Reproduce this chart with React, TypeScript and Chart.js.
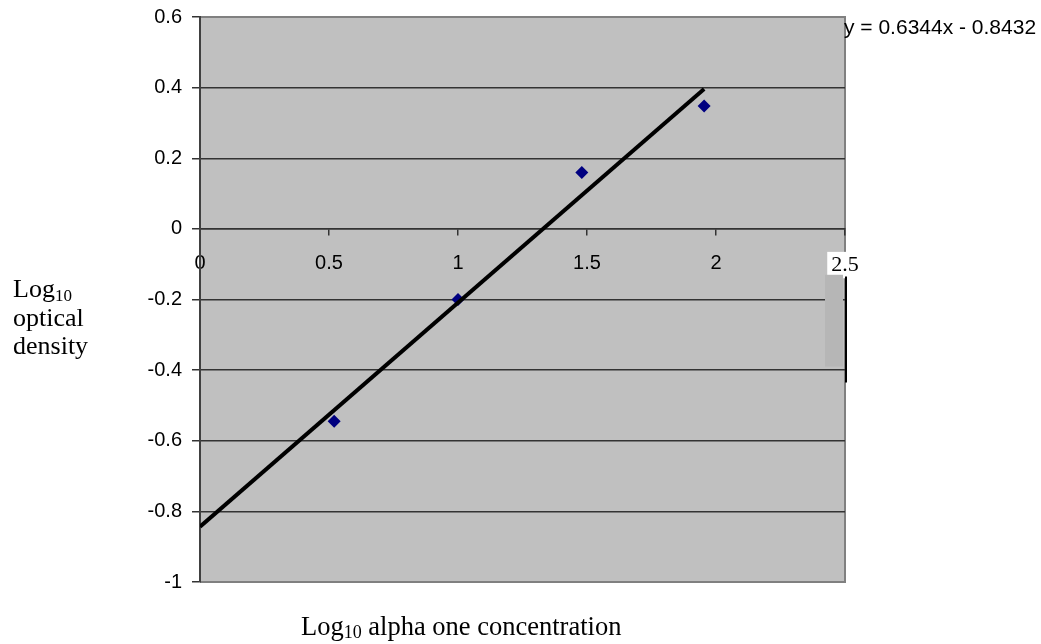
import React, { useEffect, useRef } from 'react';
import { Chart, registerables } from 'chart.js';

Chart.register(...registerables);

// ---- data ----
const POINTS_X = [0.52, 1.0, 1.48, 1.954];
const POINTS_Y = [-0.545, -0.2, 0.16, 0.348];
const TREND_SLOPE = 0.6344;
const TREND_INTERCEPT = -0.8432;
const TREND_X_RANGE = [0, 1.954];
const X_MIN = 0;
const X_MAX = 2.5;
const X_STEP = 0.5;
const Y_MIN = -1;
const Y_MAX = 0.6;
const Y_STEP = 0.2;
const EQUATION = 'y = 0.6344x - 0.8432';
const Y_TITLE_LINES = [['Log', '10'], ['optical'], ['density']];
const X_TITLE = ['Log', '10', ' alpha one concentration'];

const SANS = 'Liberation Sans';
const SERIF = 'Liberation Serif';

const near = (a: number, b: number) => Math.abs(a - b) < 1e-6;

const decor = {
  id: 'decor',
  beforeDraw(chart: any) {
    const { ctx, chartArea: a } = chart;
    ctx.save();
    ctx.fillStyle = '#ffffff';
    ctx.fillRect(0, 0, chart.width, chart.height);
    ctx.fillStyle = '#c0c0c0';
    ctx.fillRect(a.left, a.top, a.right - a.left, a.bottom - a.top);
    ctx.strokeStyle = '#808080';
    ctx.lineWidth = 2;
    ctx.beginPath();
    ctx.moveTo(a.left, a.top);
    ctx.lineTo(a.right, a.top);
    ctx.lineTo(a.right, a.bottom);
    ctx.lineTo(a.left, a.bottom);
    ctx.stroke();
    ctx.restore();
  },
  beforeDatasetsDraw(chart: any) {
    const { ctx } = chart;
    const xs = chart.scales.x;
    const ys = chart.scales.y;
    const xr = xs.getPixelForValue(X_MAX);
    ctx.save();
    // rendering artefact next to the last x label
    ctx.fillStyle = '#b6b6b6';
    const t = ys.getPixelForValue(-0.13);
    const b = ys.getPixelForValue(-0.39);
    ctx.fillRect(xr - 20, t, 18, b - t);
    ctx.strokeStyle = '#000';
    ctx.lineWidth = 2;
    ctx.beginPath();
    ctx.moveTo(xr + 1, ys.getPixelForValue(-0.135));
    ctx.lineTo(xr + 1, ys.getPixelForValue(-0.435));
    ctx.stroke();
    ctx.restore();
  },
  afterDraw(chart: any) {
    const { ctx, chartArea: a } = chart;
    ctx.save();
    ctx.fillStyle = '#000';
    ctx.textBaseline = 'middle';
    ctx.textAlign = 'left';
    ctx.font = `21px "${SANS}"`;
    ctx.fillText(EQUATION, a.right - 1, 28);

    ctx.textBaseline = 'alphabetic';
    const baselines = [297, 326, 354];
    Y_TITLE_LINES.forEach((parts, i) => {
      let x = 13;
      ctx.font = `26px "${SERIF}"`;
      ctx.fillText(parts[0], x, baselines[i]);
      x += ctx.measureText(parts[0]).width;
      if (parts[1]) {
        ctx.font = `17px "${SERIF}"`;
        ctx.fillText(parts[1], x, baselines[i] + 4);
      }
    });

    let x = 301;
    const by = 635;
    ctx.font = `26.5px "${SERIF}"`;
    ctx.fillText(X_TITLE[0], x, by);
    x += ctx.measureText(X_TITLE[0]).width;
    ctx.font = `18px "${SERIF}"`;
    ctx.fillText(X_TITLE[1], x, by + 3);
    x += ctx.measureText(X_TITLE[1]).width;
    ctx.font = `26.5px "${SERIF}"`;
    ctx.fillText(X_TITLE[2], x, by);
    ctx.restore();
  },
};

export default function App() {
  const ref = useRef<HTMLCanvasElement | null>(null);

  useEffect(() => {
    if (!ref.current) return;
    const chart = new Chart(ref.current, {
      type: 'scatter',
      data: {
        datasets: [
          {
            label: 'data',
            data: POINTS_X.map((x, i) => ({ x, y: POINTS_Y[i] })),
            pointStyle: 'rectRot',
            pointRadius: 6.5,
            backgroundColor: '#000080',
            borderColor: '#000080',
            borderWidth: 0,
            order: 1,
          },
          {
            label: 'trend',
            type: 'line',
            data: TREND_X_RANGE.map((x) => ({ x, y: TREND_SLOPE * x + TREND_INTERCEPT })),
            borderColor: '#000',
            borderWidth: 4,
            pointRadius: 0,
            showLine: true,
            fill: false,
            order: 0,
          } as any,
        ],
      },
      options: {
        animation: false,
        responsive: true,
        maintainAspectRatio: false,
        layout: { padding: { left: 130, right: 196, top: 17, bottom: 62 } },
        plugins: { legend: { display: false }, tooltip: { enabled: false } },
        scales: {
          x: {
            type: 'linear',
            position: { y: 0 } as any,
            min: X_MIN,
            max: X_MAX,
            ticks: {
              stepSize: X_STEP,
              color: '#000',
              padding: 17,
              maxRotation: 0,
              font: (c: any) =>
                c.tick && near(c.tick.value, X_MAX)
                  ? { family: SERIF, size: 22 }
                  : { family: SANS, size: 20 },
              showLabelBackdrop: (c: any) => !!(c.tick && near(c.tick.value, X_MAX)),
              backdropColor: '#ffffff',
              backdropPadding: { x: 4, y: 0 },
              callback: (v: any) => String(Number(Number(v).toFixed(1))),
            } as any,
            grid: { drawOnChartArea: false, drawTicks: true, tickLength: 6, color: '#333', lineWidth: 1.5 },
            border: { color: '#333', width: 1.5 },
          },
          y: {
            type: 'linear',
            position: 'left',
            min: Y_MIN,
            max: Y_MAX,
            afterFit: (s: any) => {
              s.width = 70;
              s.paddingTop = 0;
              s.paddingBottom = 0;
            },
            ticks: {
              stepSize: Y_STEP,
              color: '#000',
              padding: 10,
              font: { family: SANS, size: 20 },
              callback: (v: any) => String(Number(Number(v).toFixed(1))),
            },
            grid: {
              drawTicks: true,
              tickLength: 8,
              lineWidth: 1.5,
              tickColor: '#333',
              color: (c: any) =>
                c.tick && (near(c.tick.value, Y_MAX) || near(c.tick.value, Y_MIN))
                  ? 'rgba(0,0,0,0)'
                  : '#333',
            },
            border: { color: '#404040', width: 2 },
          },
        },
      },
      plugins: [decor],
    });
    return () => chart.destroy();
  }, []);

  return (
    <div style={{ position: 'fixed', left: 0, top: 0, width: 1041, height: 644, background: '#fff' }}>
      <canvas ref={ref} />
    </div>
  );
}
